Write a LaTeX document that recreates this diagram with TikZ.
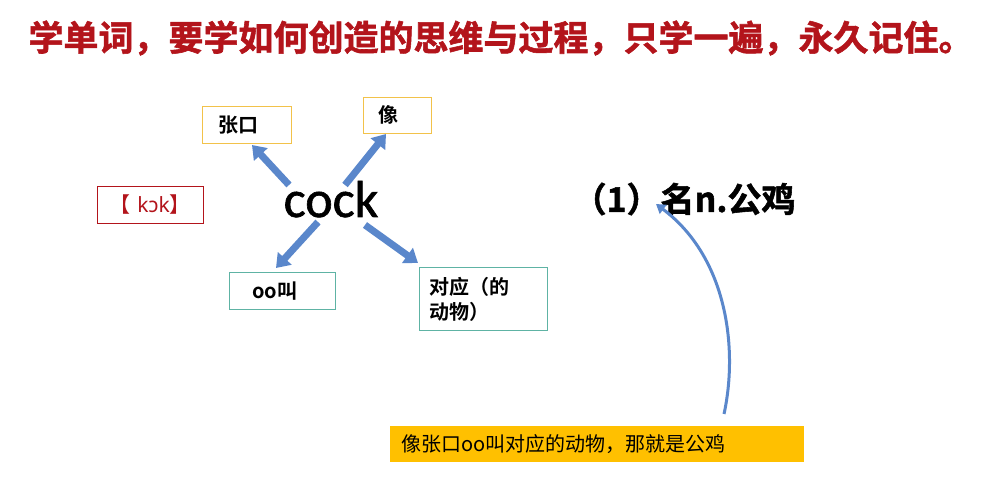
\documentclass[tikz,border=0pt]{standalone}
\usepackage{fontspec}
\usepackage{tikz}
\usetikzlibrary{arrows.meta}
\newfontfamily\cjk{Noto Sans CJK SC}[BoldFont={* Bold}]
\newfontfamily\cjkheavy{Noto Sans CJK SC}[UprightFont={* Bold},FakeBold=1.6]
\newfontfamily\wordfont{Carlito}[FakeBold=1.2]
\newfontfamily\ipafont{Noto Sans}
\definecolor{TitleRed}{HTML}{B3141B}
\definecolor{BoxGold}{HTML}{F2C24A}
\definecolor{BoxRed}{HTML}{C0141C}
\definecolor{BoxTeal}{HTML}{5EB3A4}
\definecolor{ArrowBlue}{HTML}{5A87CB}
\definecolor{NoteYellow}{HTML}{FFC000}

\begin{document}
\begin{tikzpicture}[x=1pt,y=-1pt,
		wordbox/.style={draw,line width=0.8pt,anchor=north west,inner ysep=0pt,align=left,
			font=\cjk\bfseries\fontsize{20}{25}\selectfont},
		blockarrow/.style={draw=ArrowBlue,line width=7pt,-{Triangle[width=18pt,length=13pt]}}]
		\useasboundingbox (0,0) rectangle (983,494);
		\node[TitleRed,inner sep=0pt,font=\cjkheavy\fontsize{35}{40}\selectfont] (title) at (501,38)
			{学单词，要学如何创造的思维与过程，只学一遍，永久记住。};
		% the word and its parts
		\node[anchor=base,font=\wordfont\fontsize{52}{60}\selectfont] (word) at (331,217) {cock};
		\node[wordbox,draw=BoxGold,minimum height=37,inner xsep=16,text width=57] (mouth) at (202,106) {张口};
		\node[wordbox,draw=BoxGold,minimum height=36,inner xsep=15,text width=38] (like) at (363,97) {像};
		\node[wordbox,draw=BoxTeal,minimum height=37,inner xsep=23,text width=60] (crow) at (229,272) {oo叫};
		\node[wordbox,draw=BoxTeal,minimum height=63,inner xsep=10,text width=108] (animal) at (419,267) {对应（的\\动物）};
		\node[wordbox,draw=BoxRed,TitleRed,minimum width=106,minimum height=37,align=center,
			font=\fontsize{21}{24}\selectfont] (sound) at (97,186) {{\cjk【}\ {\ipafont kɔk}{\cjk】}};
		\coordinate (mouthtail) at (289,185);
		\coordinate (mouthtip) at (252,145);
		\coordinate (liketail) at (345,185);
		\coordinate (liketip) at (386,134);
		\coordinate (crowtail) at (318,222);
		\coordinate (crowtip) at (276,268);
		\coordinate (animaltail) at (365,225);
		\coordinate (animaltip) at (418,263);
		\draw[blockarrow] (mouthtail) -- (mouthtip);
		\draw[blockarrow] (liketail) -- (liketip);
		\draw[blockarrow] (crowtail) -- (crowtip);
		\draw[blockarrow] (animaltail) -- (animaltip);
		% meaning and hint
		\node[font=\cjkheavy\fontsize{34}{38}\selectfont] (meaning) at (684,199) {（1）名n.公鸡};
		\node[fill=NoteYellow,anchor=north west,minimum height=36,inner ysep=0pt,inner xsep=11,text width=392,align=left,
			font=\cjk\fontsize{20}{24}\selectfont] (hint) at (390,426) {像张口oo叫对应的动物，那就是公鸡};
		\coordinate (hinttail) at (724,414);
		\coordinate (meaningtip) at (656,204);
		\draw[ArrowBlue,line width=3pt,-{Triangle[width=11pt,length=9pt]}] (hinttail) .. controls (738,350) and (728,258) .. (meaningtip);
	\end{tikzpicture}
\end{document}
